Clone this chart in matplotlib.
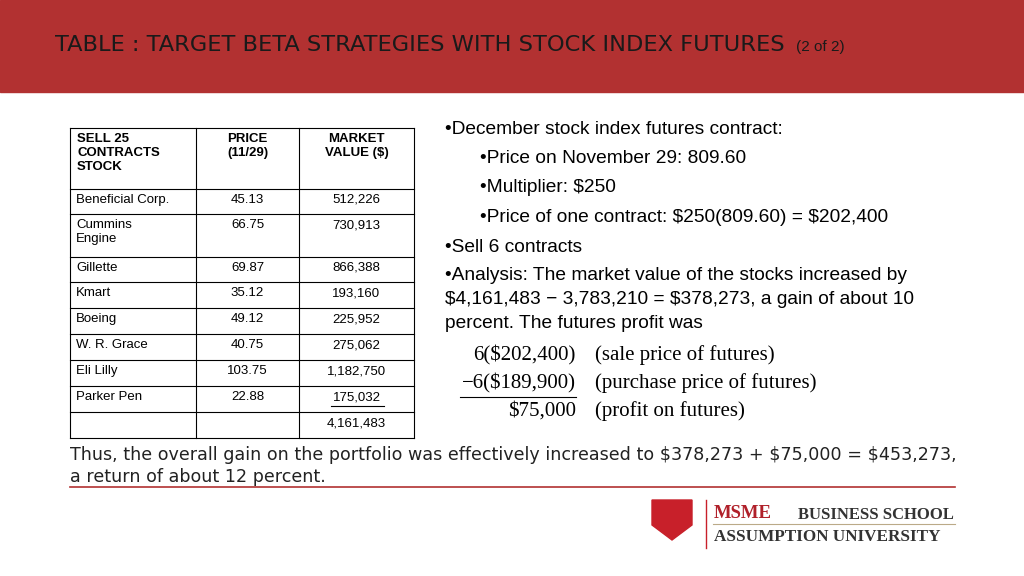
import matplotlib.pyplot as plt
from matplotlib.patches import Rectangle, Polygon

plt.rcParams["font.family"] = "Liberation Sans"

title = "TABLE : TARGET BETA STRATEGIES WITH STOCK INDEX FUTURES"
header = ["SELL 25\nCONTRACTS\nSTOCK", "PRICE\n(11/29)", "MARKET\nVALUE (\\$)"]
stocks = ["Beneficial Corp.", "Cummins\nEngine", "Gillette", "Kmart", "Boeing",
          "W. R. Grace", "Eli Lilly", "Parker Pen", ""]
prices = ["45.13", "66.75", "69.87", "35.12", "49.12", "40.75", "103.75", "22.88", ""]
values = ["512,226", "730,913", "866,388", "193,160", "225,952", "275,062",
          "1,182,750", "175,032", "4,161,483"]
bullets = [
    (0, "•December stock index futures contract:"),
    (1, "•Price on November 29: 809.60"),
    (1, "•Multiplier: \\$250"),
    (1, "•Price of one contract: \\$250(809.60) = \\$202,400"),
    (0, "•Sell 6 contracts"),
]
analysis = ["•Analysis: The market value of the stocks increased by",
            "\\$4,161,483 − 3,783,210 = \\$378,273, a gain of about 10",
            "percent. The futures profit was"]
calc_left = ["6(\\$202,400)", "−6(\\$189,900)", "\\$75,000"]
calc_right = ["(sale price of futures)", "(purchase price of futures)", "(profit on futures)"]
footer = ("Thus, the overall gain on the portfolio was effectively increased to \\$378,273 + \\$75,000 = \\$453,273,\n"
          "a return of about 12 percent.")


def main():
    fig = plt.figure(figsize=(10.24, 5.76), dpi=100)
    ax = fig.add_axes([0, 0, 1, 1])
    ax.set_xlim(0, 1024)
    ax.set_ylim(576, 0)
    ax.axis("off")

    # header band
    ax.add_patch(Rectangle((0, 0), 1024, 92, color="#B23131"))
    ax.text(55, 45, title, fontsize=16.2, color="#1a1a1a", va="center", family="DejaVu Sans")
    ax.text(796, 47, "(2 of 2)", fontsize=11, color="#1a1a1a", va="center")

    # table
    xs = [70, 196, 299, 414]
    ys = [128, 189, 214, 257, 282, 308, 334, 360, 386, 412, 438]
    for y in ys:
        ax.plot([xs[0], xs[-1]], [y, y], color="black", lw=0.8)
    for x in xs:
        ax.plot([x, x], [ys[0], ys[-1]], color="black", lw=0.8)
    for j, h in enumerate(header):
        if j == 0:
            ax.text(77, 133, h, fontsize=9.5, fontweight="bold", va="top", linespacing=1.2)
        else:
            ax.text((xs[j] + xs[j + 1]) / 2, 133, h, fontsize=9.5, fontweight="bold",
                    va="top", ha="center", linespacing=1.2)
    for i in range(len(stocks)):
        top = ys[i + 1] + 5
        ax.text(76, top, stocks[i], fontsize=9.5, va="top", linespacing=1.2)
        ax.text((xs[1] + xs[2]) / 2, top, prices[i], fontsize=9.5, va="top", ha="center")
        ax.text((xs[2] + xs[3]) / 2, top, values[i], fontsize=9.5, va="top", ha="center")
        if i == 7:
            ax.plot([331, 384], [top + 15, top + 15], color="black", lw=0.8)

    # right text
    y = 129
    for lvl, s in bullets:
        ax.text(445 + 35 * lvl, y, s, fontsize=13.8, va="center")
        y += 29.5
    for k, s in enumerate(analysis):
        ax.text(445, 276 + 23.5 * k, s, fontsize=13.8, va="center")
    for k in range(3):
        yy = 355 + 28 * k
        ax.text(576, yy, calc_left[k], fontsize=15, family="Liberation Serif",
                ha="right", va="center")
        ax.text(595, yy, calc_right[k], fontsize=15, family="Liberation Serif", va="center")
    ax.plot([460, 576], [397, 397], color="black", lw=0.8)

    ax.text(70, 466, footer, fontsize=12.6, va="center", color="#222222", linespacing=1.25,
            family="DejaVu Sans")
    ax.plot([70, 955], [487, 487], color="#B23131", lw=1.2)

    # logo
    ax.add_patch(Polygon([[652, 500], [692, 500], [692, 525], [672, 540], [652, 525]],
                         color="#C8202A"))
    ax.plot([706, 706], [500, 548], color="#C8202A", lw=1)
    ax.text(714, 514, "MSME", fontsize=13.5, family="Liberation Serif",
            fontweight="bold", color="#B0202A", va="center")
    ax.text(954, 515, "BUSINESS SCHOOL", fontsize=12, family="Liberation Serif",
            fontweight="bold", color="#333333", va="center", ha="right")
    ax.plot([713, 955], [524, 524], color="#BBAA88", lw=0.8)
    ax.text(714, 537, "ASSUMPTION UNIVERSITY", fontsize=12.3, family="Liberation Serif",
            fontweight="bold", color="#333333", va="center")

    fig.savefig("out.png", dpi=100)


if __name__ == "__main__":
    main()
